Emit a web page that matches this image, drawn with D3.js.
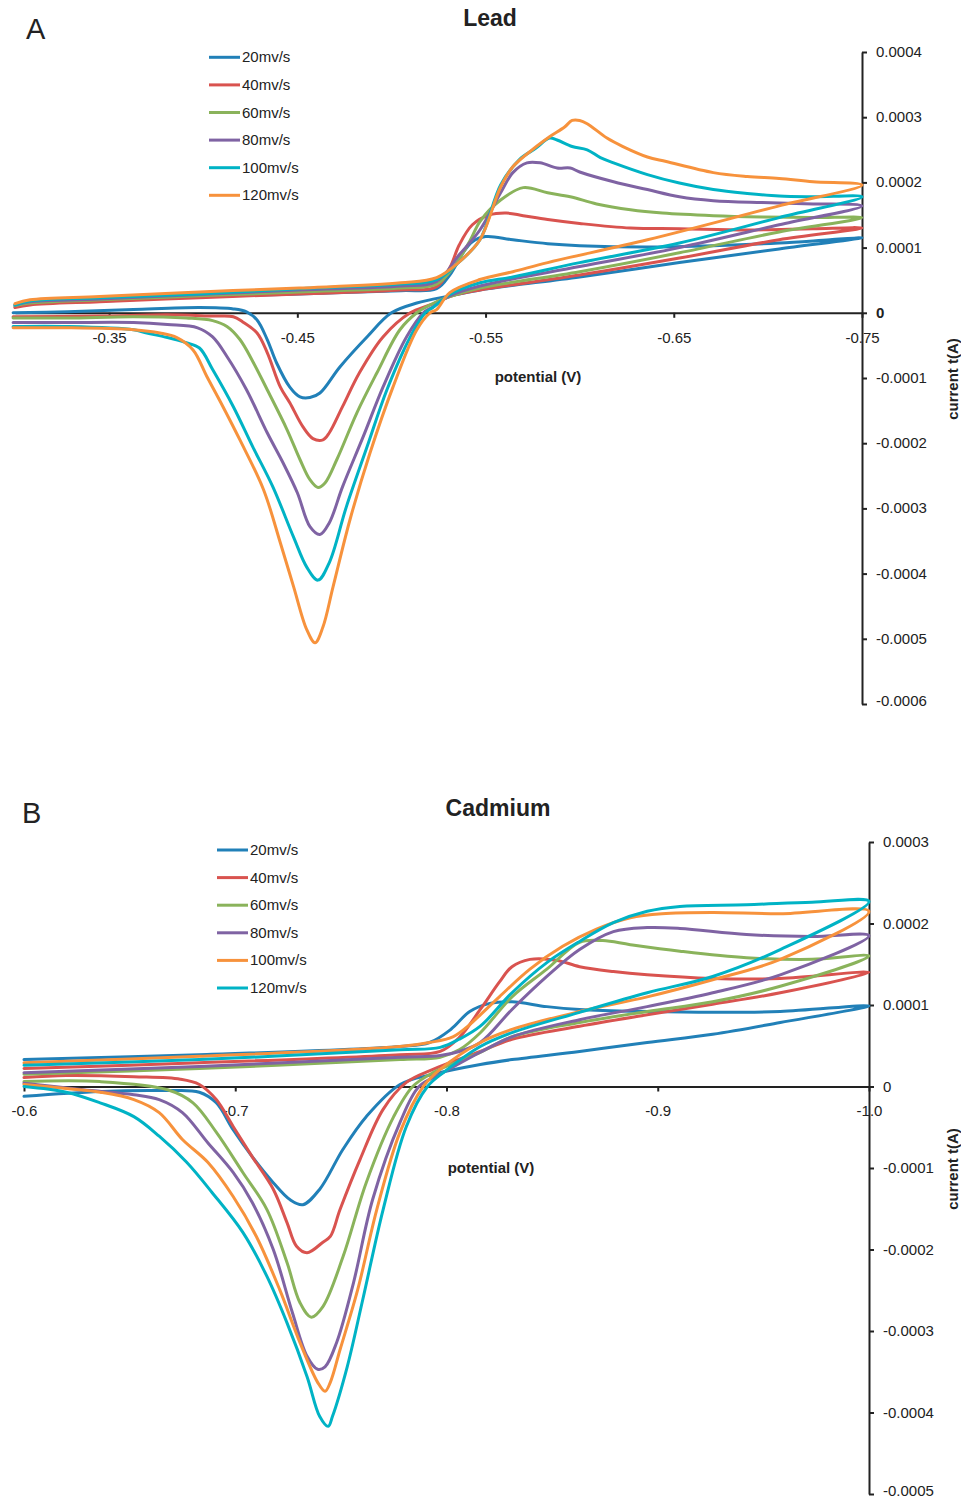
<!DOCTYPE html>
<html>
<head>
<meta charset="utf-8">
<script src="https://cdn.jsdelivr.net/npm/d3@7"></script>
<style>
  html, body { margin: 0; padding: 0; background: #fff; }
  svg { display: block; font-family: "Liberation Sans", Arial, sans-serif; }
</style>
</head>
<body>
<svg id="chart" width="961" height="1500"></svg>
<script>
// Currents in the curve arrays are given in units of 1e-4 A.
const CURRENT_UNIT = 1e-4;

const scanRateLabels = ["20mv/s", "40mv/s", "60mv/s", "80mv/s", "100mv/s", "120mv/s"];

// ---- Lead: cyclic voltammograms, [potential (V), current (1e-4 A)] along the scan ----
const lead20 = [
  [-0.300,0.09],[-0.308,0.14],[-0.345,0.18],[-0.398,0.25],[-0.451,0.29],[-0.505,0.34],[-0.524,0.37],
  [-0.531,0.58],[-0.538,0.92],[-0.543,1.09],[-0.550,1.17],[-0.5645,1.12],[-0.583,1.06],[-0.600,1.03],
  [-0.636,1.01],[-0.671,1.03],[-0.706,1.07],[-0.733,1.12],[-0.750,1.15],
  [-0.706,0.98],[-0.653,0.77],[-0.600,0.55],[-0.547,0.35],[-0.531,0.26],[-0.5135,0.15],[-0.500,0.0],
  [-0.487,-0.37],[-0.4726,-0.83],[-0.462,-1.23],[-0.4567,-1.30],[-0.4514,-1.29],[-0.446,-1.14],
  [-0.439,-0.77],[-0.434,-0.41],[-0.4286,-0.11],[-0.423,0.015],[-0.416,0.06],[-0.398,0.08],
  [-0.363,0.05],[-0.328,0.015],[-0.299,0.0]
];
const lead40 = [
  [-0.300,0.08],[-0.308,0.12],[-0.345,0.17],[-0.398,0.23],[-0.451,0.29],[-0.505,0.35],[-0.524,0.40],
  [-0.531,0.69],[-0.536,1.04],[-0.543,1.35],[-0.552,1.50],[-0.561,1.53],[-0.570,1.49],[-0.583,1.43],
  [-0.600,1.37],[-0.627,1.30],[-0.653,1.29],[-0.689,1.27],[-0.724,1.29],[-0.750,1.30],
  [-0.706,1.12],[-0.653,0.84],[-0.600,0.58],[-0.547,0.35],[-0.531,0.25],[-0.5205,0.12],[-0.510,0.0],
  [-0.4955,-0.37],[-0.483,-0.92],[-0.474,-1.44],[-0.467,-1.84],[-0.4636,-1.95],[-0.4583,-1.93],
  [-0.453,-1.75],[-0.446,-1.38],[-0.441,-1.14],[-0.434,-0.61],[-0.4286,-0.31],[-0.421,-0.14],
  [-0.416,-0.06],[-0.405,-0.05],[-0.381,-0.03],[-0.345,-0.05],[-0.299,-0.06]
];
const lead60 = [
  [-0.300,0.11],[-0.308,0.15],[-0.345,0.20],[-0.398,0.26],[-0.451,0.32],[-0.505,0.38],[-0.524,0.44],
  [-0.534,0.74],[-0.542,1.12],[-0.547,1.40],[-0.558,1.73],[-0.570,1.92],[-0.583,1.84],[-0.595,1.78],
  [-0.609,1.67],[-0.627,1.58],[-0.644,1.53],[-0.671,1.49],[-0.697,1.47],[-0.724,1.46],[-0.750,1.46],
  [-0.706,1.24],[-0.653,0.92],[-0.600,0.63],[-0.547,0.38],[-0.531,0.25],[-0.5205,0.12],[-0.5135,0.0],
  [-0.5045,-0.26],[-0.4923,-0.92],[-0.4817,-1.53],[-0.471,-2.25],[-0.4647,-2.61],[-0.461,-2.68],
  [-0.4567,-2.56],[-0.4514,-2.25],[-0.4445,-1.79],[-0.434,-1.18],[-0.4264,-0.75],[-0.4195,-0.41],
  [-0.4126,-0.21],[-0.405,-0.12],[-0.391,-0.08],[-0.363,-0.06],[-0.328,-0.08],[-0.299,-0.08]
];
const lead80 = [
  [-0.300,0.12],[-0.308,0.17],[-0.345,0.21],[-0.398,0.28],[-0.451,0.35],[-0.505,0.41],[-0.524,0.48],
  [-0.536,0.89],[-0.547,1.27],[-0.558,1.84],[-0.5645,2.15],[-0.572,2.30],[-0.579,2.30],[-0.588,2.22],
  [-0.595,2.22],[-0.600,2.16],[-0.618,2.01],[-0.636,1.89],[-0.653,1.78],[-0.671,1.72],[-0.697,1.69],
  [-0.724,1.67],[-0.750,1.64],
  [-0.706,1.35],[-0.653,1.00],[-0.600,0.71],[-0.547,0.41],[-0.531,0.26],[-0.522,0.09],[-0.517,0.0],
  [-0.508,-0.37],[-0.4955,-1.14],[-0.485,-1.90],[-0.474,-2.67],[-0.467,-3.22],[-0.462,-3.40],
  [-0.4567,-3.28],[-0.450,-2.76],[-0.4424,-2.30],[-0.434,-1.84],[-0.423,-1.18],[-0.4126,-0.67],
  [-0.405,-0.37],[-0.397,-0.23],[-0.381,-0.18],[-0.363,-0.15],[-0.328,-0.15],[-0.299,-0.15]
];
const lead100 = [
  [-0.300,0.12],[-0.308,0.18],[-0.345,0.23],[-0.398,0.29],[-0.451,0.37],[-0.505,0.44],[-0.524,0.51],
  [-0.536,0.78],[-0.547,1.12],[-0.558,1.96],[-0.568,2.35],[-0.577,2.53],[-0.584,2.68],[-0.588,2.65],
  [-0.596,2.55],[-0.604,2.50],[-0.611,2.38],[-0.618,2.30],[-0.636,2.12],[-0.653,1.99],[-0.671,1.89],
  [-0.689,1.83],[-0.706,1.79],[-0.724,1.78],[-0.750,1.78],
  [-0.706,1.46],[-0.653,1.07],[-0.600,0.77],[-0.5645,0.55],[-0.547,0.46],[-0.531,0.28],[-0.522,0.08],
  [-0.518,0.0],[-0.510,-0.37],[-0.4976,-1.18],[-0.487,-2.06],[-0.476,-2.98],[-0.467,-3.83],
  [-0.461,-4.10],[-0.455,-3.90],[-0.448,-3.44],[-0.437,-2.67],[-0.4264,-2.06],[-0.416,-1.44],
  [-0.405,-0.87],[-0.398,-0.54],[-0.391,-0.46],[-0.381,-0.38],[-0.370,-0.31],[-0.363,-0.26],
  [-0.328,-0.21],[-0.299,-0.21]
];
const lead120 = [
  [-0.300,0.14],[-0.308,0.20],[-0.345,0.25],[-0.398,0.32],[-0.451,0.38],[-0.505,0.46],[-0.524,0.54],
  [-0.536,0.78],[-0.547,1.12],[-0.558,1.93],[-0.5645,2.24],[-0.577,2.55],[-0.584,2.70],[-0.592,2.85],
  [-0.596,2.95],[-0.600,2.95],[-0.604,2.90],[-0.6145,2.68],[-0.623,2.55],[-0.636,2.39],[-0.646,2.32],
  [-0.671,2.15],[-0.689,2.09],[-0.706,2.06],[-0.724,2.01],[-0.750,1.96],
  [-0.706,1.64],[-0.636,1.12],[-0.583,0.77],[-0.5645,0.63],[-0.547,0.51],[-0.531,0.31],[-0.524,0.05],
  [-0.5205,0.0],[-0.5135,-0.26],[-0.5008,-1.14],[-0.4886,-2.15],[-0.478,-3.17],[-0.469,-4.20],
  [-0.4636,-4.82],[-0.4594,-5.06],[-0.455,-4.86],[-0.448,-4.20],[-0.441,-3.53],[-0.432,-2.71],
  [-0.4195,-1.95],[-0.4105,-1.44],[-0.402,-0.98],[-0.3946,-0.57],[-0.386,-0.38],[-0.377,-0.31],
  [-0.363,-0.26],[-0.328,-0.23],[-0.299,-0.23]
];

// ---- Cadmium ----
const cadmium20 = [
  [-0.600,0.33],[-0.683,0.39],[-0.778,0.49],[-0.792,0.54],[-0.802,0.70],[-0.811,0.92],[-0.8205,1.02],
  [-0.831,1.04],[-0.8475,0.98],[-0.863,0.945],[-0.895,0.92],[-0.926,0.91],[-0.958,0.92],[-1.000,0.99],
  [-0.958,0.785],[-0.926,0.64],[-0.895,0.54],[-0.863,0.43],[-0.831,0.33],[-0.816,0.27],[-0.7936,0.15],
  [-0.778,0.025],[-0.762,-0.37],[-0.751,-0.77],[-0.740,-1.26],[-0.732,-1.45],[-0.726,-1.39],
  [-0.718,-1.18],[-0.708,-0.86],[-0.699,-0.53],[-0.691,-0.20],[-0.683,-0.07],[-0.668,-0.05],
  [-0.636,-0.06],[-0.600,-0.12]
];
const cadmium40 = [
  [-0.600,0.22],[-0.683,0.29],[-0.778,0.39],[-0.797,0.43],[-0.806,0.60],[-0.816,0.945],[-0.825,1.28],
  [-0.831,1.47],[-0.8395,1.56],[-0.852,1.55],[-0.863,1.47],[-0.879,1.41],[-0.895,1.37],[-0.926,1.325],
  [-0.958,1.325],[-1.000,1.40],
  [-0.958,1.15],[-0.926,1.01],[-0.895,0.88],[-0.863,0.74],[-0.831,0.58],[-0.816,0.43],[-0.7936,0.21],
  [-0.781,0.05],[-0.770,-0.28],[-0.759,-0.90],[-0.7496,-1.51],[-0.745,-1.84],[-0.7415,-1.91],
  [-0.734,-2.04],[-0.729,-1.96],[-0.7245,-1.67],[-0.718,-1.26],[-0.708,-0.86],[-0.699,-0.49],
  [-0.691,-0.16],[-0.683,0.025],[-0.674,0.09],[-0.652,0.12],[-0.620,0.135],[-0.600,0.11]
];
const cadmium60 = [
  [-0.600,0.15],[-0.683,0.22],[-0.778,0.33],[-0.797,0.36],[-0.806,0.45],[-0.816,0.66],[-0.831,1.10],
  [-0.8475,1.44],[-0.863,1.77],[-0.874,1.79],[-0.887,1.74],[-0.9105,1.66],[-0.942,1.58],[-0.973,1.56],
  [-1.000,1.60],
  [-0.958,1.23],[-0.926,1.04],[-0.895,0.92],[-0.863,0.785],[-0.831,0.61],[-0.816,0.42],[-0.7936,0.17],
  [-0.784,0.0],[-0.775,-0.37],[-0.762,-1.18],[-0.751,-2.09],[-0.7415,-2.70],[-0.736,-2.83],
  [-0.7306,-2.65],[-0.7245,-2.16],[-0.715,-1.51],[-0.7036,-1.055],[-0.691,-0.56],[-0.680,-0.20],
  [-0.668,-0.04],[-0.636,0.06],[-0.600,0.06]
];
const cadmium80 = [
  [-0.600,0.17],[-0.683,0.245],[-0.778,0.36],[-0.797,0.38],[-0.806,0.43],[-0.816,0.54],[-0.831,0.945],
  [-0.8475,1.35],[-0.863,1.68],[-0.879,1.90],[-0.895,1.95],[-0.9105,1.94],[-0.942,1.865],[-0.973,1.84],
  [-1.000,1.85],
  [-0.958,1.37],[-0.926,1.15],[-0.895,0.98],[-0.863,0.82],[-0.831,0.61],[-0.816,0.42],[-0.797,0.15],
  [-0.787,0.0],[-0.778,-0.44],[-0.765,-1.39],[-0.756,-2.405],[-0.748,-3.14],[-0.7425,-3.44],
  [-0.739,-3.47],[-0.734,-3.31],[-0.727,-2.77],[-0.718,-2.00],[-0.708,-1.42],[-0.699,-1.055],
  [-0.687,-0.69],[-0.675,-0.32],[-0.664,-0.16],[-0.652,-0.10],[-0.628,-0.04],[-0.600,0.04]
];
const cadmium100 = [
  [-0.600,0.29],[-0.683,0.37],[-0.778,0.49],[-0.792,0.54],[-0.803,0.61],[-0.811,0.76],[-0.816,0.88],
  [-0.825,1.10],[-0.8395,1.44],[-0.855,1.72],[-0.871,1.93],[-0.887,2.07],[-0.902,2.12],[-0.926,2.135],
  [-0.958,2.12],[-1.000,2.15],
  [-0.958,1.56],[-0.926,1.31],[-0.895,1.10],[-0.863,0.92],[-0.831,0.70],[-0.816,0.54],[-0.797,0.21],
  [-0.789,0.0],[-0.778,-0.56],[-0.767,-1.51],[-0.758,-2.49],[-0.7496,-3.23],[-0.745,-3.63],
  [-0.7425,-3.74],[-0.739,-3.63],[-0.7306,-3.14],[-0.721,-2.49],[-0.710,-1.84],[-0.699,-1.35],
  [-0.687,-0.93],[-0.675,-0.65],[-0.664,-0.32],[-0.652,-0.16],[-0.636,-0.07],[-0.620,-0.025],
  [-0.600,0.025]
];
const cadmium120 = [
  [-0.600,0.26],[-0.683,0.33],[-0.778,0.45],[-0.797,0.48],[-0.806,0.58],[-0.816,0.74],[-0.831,1.15],
  [-0.8475,1.52],[-0.863,1.78],[-0.879,2.01],[-0.895,2.15],[-0.9105,2.21],[-0.942,2.23],[-0.973,2.26],
  [-1.000,2.27],
  [-0.958,1.68],[-0.926,1.35],[-0.895,1.15],[-0.863,0.91],[-0.831,0.66],[-0.816,0.49],[-0.799,0.18],
  [-0.791,0.0],[-0.781,-0.49],[-0.770,-1.51],[-0.7604,-2.61],[-0.753,-3.44],[-0.746,-4.05],
  [-0.744,-4.17],[-0.740,-4.05],[-0.734,-3.56],[-0.7245,-2.90],[-0.715,-2.33],[-0.7036,-1.79],
  [-0.689,-1.30],[-0.677,-0.93],[-0.664,-0.61],[-0.652,-0.37],[-0.636,-0.20],[-0.620,-0.07],
  [-0.600,0.0]
];

// Axis ticks
const leadPotentialTicks = [-0.35, -0.45, -0.55, -0.65, -0.75];
const leadCurrentTicks = [0.0004, 0.0003, 0.0002, 0.0001, 0, -0.0001, -0.0002, -0.0003, -0.0004, -0.0005, -0.0006];
const cadmiumPotentialTicks = [-0.6, -0.7, -0.8, -0.9, -1.0];
const cadmiumCurrentTicks = [0.0003, 0.0002, 0.0001, 0, -0.0001, -0.0002, -0.0003, -0.0004, -0.0005];

// Series colours
const blue = "#2180b8", red = "#d9534f", green = "#8ab35b", purple = "#7f63a3", cyan = "#00b3c5", orange = "#f7923c";
const leadColors = [blue, red, green, purple, cyan, orange];
const cadmiumColors = [blue, red, green, purple, orange, cyan];

// number formatting with a plain hyphen as the minus sign
const plainLocale = d3.formatLocale({ decimal: ".", thousands: ",", grouping: [3], currency: ["", ""], minus: "-" });

const svg = d3.select("#chart");
const axisColor = "#222";

function drawPanel(cfg) {
  const g = svg.append("g");
  const x = d3.scaleLinear().domain(cfg.xDomain).range(cfg.xRange);
  const y = d3.scaleLinear().domain(cfg.yDomain).range(cfg.yRange);

  // panel letter and title
  g.append("text").attr("x", cfg.letterPos[0]).attr("y", cfg.letterPos[1])
    .attr("font-size", 29).attr("fill", "#222").text(cfg.letter);
  g.append("text").attr("x", cfg.titlePos[0]).attr("y", cfg.titlePos[1])
    .attr("text-anchor", "middle").attr("font-size", 23).attr("font-weight", "bold")
    .attr("fill", "#222").text(cfg.title);

  // x axis (potential) crossing at zero current
  const xAxis = d3.axisBottom(x).tickValues(cfg.xTicks).tickSize(5).tickSizeOuter(0)
    .tickPadding(cfg.xPad).tickFormat(plainLocale.format(cfg.xFormat));
  const gx = g.append("g").attr("transform", `translate(0,${y(0)})`).call(xAxis);

  // y axis (current) at the far end of the potential range
  const fmt4 = plainLocale.format(".4f");
  const yAxis = d3.axisRight(y).tickValues(cfg.yTicks).tickSize(5).tickSizeOuter(0)
    .tickPadding(9).tickFormat(d => Math.abs(d) < 1e-12 ? "0" : fmt4(d));
  const gy = g.append("g").attr("transform", `translate(${x(cfg.xDomain[1])},0)`).call(yAxis);

  [gx, gy].forEach(a => {
    a.select(".domain").attr("stroke", axisColor).attr("stroke-width", 2);
    a.selectAll(".tick line").attr("stroke", axisColor).attr("stroke-width", 2);
    a.selectAll(".tick text").attr("font-size", 15).attr("fill", "#222")
      .attr("font-family", "Liberation Sans, Arial, sans-serif");
  });
  const minTick = d3.min(cfg.yTicks);
  gy.selectAll(".tick text").attr("dy", d => d === minTick ? "0.1em" : "0.3em");
  if (cfg.boldZero) gy.selectAll(".tick text").filter(d => d === 0).attr("font-weight", "bold");

  // axis titles
  g.append("text").attr("x", cfg.xTitlePos[0]).attr("y", cfg.xTitlePos[1])
    .attr("text-anchor", "middle").attr("font-size", 15).attr("font-weight", "bold")
    .attr("fill", "#222").text("potential (V)");
  g.append("text").attr("transform", `translate(${cfg.yTitlePos[0]},${cfg.yTitlePos[1]}) rotate(-90)`)
    .attr("text-anchor", "middle").attr("font-size", 15).attr("font-weight", "bold")
    .attr("fill", "#222").text("current t(A)");

  // voltammograms
  const line = d3.line()
    .x(d => x(d[0]))
    .y(d => y(d[1] * CURRENT_UNIT))
    .curve(d3.curveCatmullRom.alpha(0.5));
  g.append("g").selectAll("path").data(cfg.series).join("path")
    .attr("d", d => line(d))
    .attr("fill", "none")
    .attr("stroke", (d, i) => cfg.colors[i])
    .attr("stroke-width", 3)
    .attr("stroke-linejoin", "round")
    .attr("stroke-linecap", "round");

  // legend
  const lg = g.append("g");
  cfg.labels.forEach((lab, i) => {
    const ly = cfg.legendPos[1] + i * 27.6;
    lg.append("line").attr("x1", cfg.legendPos[0]).attr("x2", cfg.legendPos[0] + 31)
      .attr("y1", ly).attr("y2", ly).attr("stroke", cfg.colors[i]).attr("stroke-width", 3);
    lg.append("text").attr("x", cfg.legendPos[0] + 33).attr("y", ly + 5)
      .attr("font-size", 15).attr("fill", "#222").text(lab);
  });
}

drawPanel({
  letter: "A", letterPos: [26, 39], title: "Lead", titlePos: [490, 26],
  xDomain: [-0.3, -0.75], xRange: [15, 862],
  yDomain: [-0.0006, 0.0004], yRange: [704, 52],
  xTicks: leadPotentialTicks, xFormat: ".2f", xPad: 15,
  yTicks: leadCurrentTicks, boldZero: true,
  xTitlePos: [538, 382], yTitlePos: [958, 379],
  series: [lead20, lead40, lead60, lead80, lead100, lead120],
  colors: leadColors, labels: scanRateLabels, legendPos: [209, 57.3]
});

drawPanel({
  letter: "B", letterPos: [22, 823], title: "Cadmium", titlePos: [498, 816],
  xDomain: [-0.6, -1.0], xRange: [24, 869],
  yDomain: [-0.0005, 0.0003], yRange: [1494, 842],
  xTicks: cadmiumPotentialTicks, xFormat: ".1f", xPad: 14,
  yTicks: cadmiumCurrentTicks, boldZero: false,
  xTitlePos: [491, 1173], yTitlePos: [958, 1169],
  series: [cadmium20, cadmium40, cadmium60, cadmium80, cadmium100, cadmium120],
  colors: cadmiumColors, labels: scanRateLabels, legendPos: [217, 850]
});
</script>
</body>
</html>
